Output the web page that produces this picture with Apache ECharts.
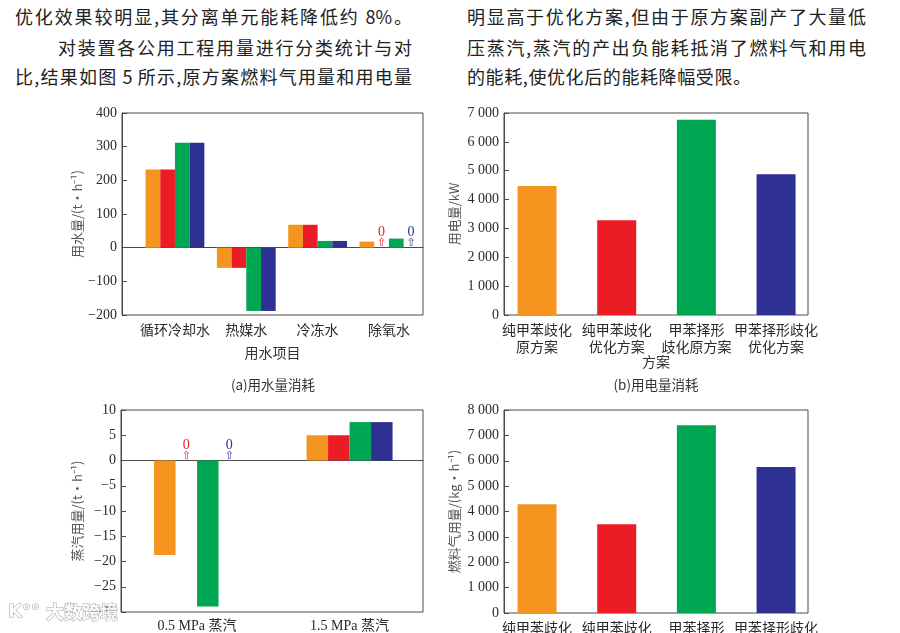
<!DOCTYPE html>
<html><head><meta charset="utf-8">
<script src="https://cdn.jsdelivr.net/npm/echarts@6/dist/echarts.min.js"></script>
<style>
body{margin:0;background:#fff;width:900px;height:633px;overflow:hidden;position:relative}
.ln{position:absolute;font-family:"Noto Sans CJK SC";font-size:18px;line-height:30px;color:#222;white-space:nowrap;text-align:justify;text-align-last:justify;overflow:hidden;height:30px}
#chart{position:absolute;left:0;top:0;width:900px;height:633px}
</style></head>
<body>
<div class="ln" style="left:15px;top:1px;width:397px">优化效果较明显,其分离单元能耗降低约 8%。</div>
<div class="ln" style="left:58px;top:32px;width:354px">对装置各公用工程用量进行分类统计与对</div>
<div class="ln" style="left:15px;top:61px;width:397px">比,结果如图 5 所示,原方案燃料气用量和用电量</div>
<div class="ln" style="left:467px;top:1px;width:399px">明显高于优化方案,但由于原方案副产了大量低</div>
<div class="ln" style="left:467px;top:32px;width:399px">压蒸汽,蒸汽的产出负能耗抵消了燃料气和用电</div>
<div class="ln" style="left:467px;top:61px;width:280px;text-align:left;text-align-last:left;letter-spacing:0.6px">的能耗,使优化后的能耗降幅受限。</div>
<div id="chart"></div>
<script>
// ---- data ----
const seriesNames = ['纯甲苯歧化原方案', '纯甲苯歧化优化方案', '甲苯择形歧化原方案', '甲苯择形歧化优化方案'];
const seriesColors = ['#F5941E', '#EC1C24', '#00A651', '#2E3192'];

const waterCats = ['循环冷却水', '热媒水', '冷冻水', '除氧水'];
const waterPureOrig = [232, -60, 68, 18];
const waterPureOpt = [232, -60, 68, 0];
const waterTolOrig = [312, -188, 20, 27];
const waterTolOpt = [312, -188, 20, 0];
const waterTicks = [-200, -100, 0, 100, 200, 300, 400];

const schemeCats = ['纯甲苯歧化\n原方案', '纯甲苯歧化\n优化方案', '甲苯择形\n歧化原方案', '甲苯择形歧化\n优化方案'];
const powerValues = [4470, 3280, 6770, 4880];
const powerTicks = [0, 1000, 2000, 3000, 4000, 5000, 6000, 7000];

const steamCats = ['0.5 MPa 蒸汽', '1.5 MPa 蒸汽'];
const steamPureOrig = [-18.7, 5.0];
const steamPureOpt = [0, 5.0];
const steamTolOrig = [-28.9, 7.6];
const steamTolOpt = [0, 7.6];
const steamTicks = [-30, -25, -20, -15, -10, -5, 0, 5, 10];

const fuelValues = [4290, 3500, 7400, 5750];
const fuelTicks = [0, 1000, 2000, 3000, 4000, 5000, 6000, 7000, 8000];

// ---- helpers ----
const axisColor = '#4a4a4a';
const serif = '"Liberation Serif", "Noto Sans CJK SC", serif';
const cjk = '"Noto Sans CJK SC", sans-serif';

function fmtSigned(v) { return v < 0 ? '\u2212' + Math.abs(v) : String(v); }
function fmtThousand(v) {
  if (v >= 1000) return Math.floor(v / 1000) + ' ' + String(v % 1000).padStart(3, '0');
  return String(v);
}

const frames = [
  {left: 122, top: 113, width: 301, height: 202},
  {left: 504, top: 113, width: 304, height: 202},
  {left: 121, top: 410, width: 302, height: 202},
  {left: 504, top: 410, width: 304, height: 203}
];
const barGrids = [
  {left: 139.3, top: 113, width: 285.3, height: 202},
  {left: 497.2, top: 113, width: 318.7, height: 202},
  {left: 120.8, top: 410, width: 305, height: 202},
  {left: 497.2, top: 410, width: 318.7, height: 203}
];

const grid = [];
frames.forEach(f => grid.push(Object.assign({show: true, borderColor: axisColor, borderWidth: 1, backgroundColor: 'transparent', containLabel: false, outerBoundsMode: 'none'}, f)));
barGrids.forEach(f => grid.push(Object.assign({show: false, containLabel: false, outerBoundsMode: 'none'}, f)));

const xAxis = [];
const yAxis = [];

function frameY(gi, ticks, fmt, name, gap) {
  yAxis.push({
    gridIndex: gi, type: 'value', position: 'left',
    min: ticks[0], max: ticks[ticks.length - 1], interval: ticks[1] - ticks[0],
    axisLine: {show: true, lineStyle: {color: axisColor, width: 1}},
    axisTick: {show: true, inside: true, length: 5, lineStyle: {color: axisColor}},
    axisLabel: {formatter: fmt, margin: 5, fontFamily: serif, fontSize: 14, color: '#2a2a2a'},
    splitLine: {show: false},
    name: name, nameLocation: 'middle', nameGap: gap,
    nameTextStyle: {fontFamily: cjk, fontSize: 13, color: '#555'}
  });
}
function frameX(gi, zeroLine, name, gap) {
  xAxis.push({
    gridIndex: gi, type: 'category', data: [''], position: 'bottom',
    axisLine: {show: zeroLine, onZero: zeroLine, lineStyle: {color: axisColor, width: 1}},
    axisTick: {show: false}, axisLabel: {show: false}, splitLine: {show: false}
  });
  if (name) {
    xAxis.push({
      gridIndex: gi, type: 'category', data: [''], position: 'bottom',
      axisLine: {show: false, onZero: false}, axisTick: {show: false}, axisLabel: {show: false},
      name: name, nameLocation: 'middle', nameGap: gap,
      nameTextStyle: {fontFamily: cjk, fontSize: 14, color: '#333'}
    });
  }
}
function barAxes(gi, cats, ticks, fontFam) {
  const xi = xAxis.length, yi = yAxis.length;
  xAxis.push({
    gridIndex: gi, type: 'category', data: cats, position: 'bottom',
    axisLine: {show: false, onZero: false}, axisTick: {show: false},
    axisLabel: {margin: 6, fontSize: 14, lineHeight: 17, color: '#2a2a2a', fontFamily: fontFam, interval: 0}
  });
  yAxis.push({gridIndex: gi, type: 'value', show: false, position: 'left',
    min: ticks[0], max: ticks[ticks.length - 1], interval: ticks[1] - ticks[0]});
  return [xi, yi];
}

// frames
frameY(0, waterTicks, fmtSigned, '用水量/(t·h⁻¹)', 38); frameX(0, true, '用水项目', 31);
frameY(1, powerTicks, fmtThousand, '用电量/kW', 43); frameX(1, false, '方案', 40);
frameY(2, steamTicks, fmtSigned, '蒸汽用量/(t·h⁻¹)', 37); frameX(2, true, null, 0);
frameY(3, fuelTicks, fmtThousand, '燃料气用量/(kg·h⁻¹)', 43); frameX(3, false, null, 0);

// bar axes
const axA = barAxes(4, waterCats, waterTicks, cjk);
const axB = barAxes(5, schemeCats, powerTicks, cjk);
const axC = barAxes(6, steamCats, steamTicks, serif);
const axD = barAxes(7, schemeCats, fuelTicks, cjk);

function zeroLabel(color) {
  return {
    show: true, position: 'top', distance: 0,
    formatter: p => (p.value === 0 ? '{n|0}\n{a|⇧}' : ''),
    rich: {
      n: {fontFamily: serif, fontSize: 14, color: color, lineHeight: 12, align: 'center'},
      a: {fontFamily: '"DejaVu Sans"', fontSize: 11, color: color, lineHeight: 9, align: 'center'}
    }
  };
}

const series = [];
const waterSets = [waterPureOrig, waterPureOpt, waterTolOrig, waterTolOpt];
waterSets.forEach((d, i) => series.push({
  name: seriesNames[i], type: 'bar', xAxisIndex: axA[0], yAxisIndex: axA[1],
  data: d, barWidth: 14.7, barGap: '0%', itemStyle: {color: seriesColors[i]},
  label: zeroLabel(seriesColors[i]), z: 3
}));
const steamSets = [steamPureOrig, steamPureOpt, steamTolOrig, steamTolOpt];
steamSets.forEach((d, i) => series.push({
  name: seriesNames[i], type: 'bar', xAxisIndex: axC[0], yAxisIndex: axC[1],
  data: d, barWidth: 21.5, barGap: '0%', itemStyle: {color: seriesColors[i]},
  label: zeroLabel(seriesColors[i]), z: 3
}));
series.push({
  name: '用电量', type: 'bar', xAxisIndex: axB[0], yAxisIndex: axB[1], barWidth: 39,
  data: powerValues.map((v, i) => ({value: v, itemStyle: {color: seriesColors[i]}})), z: 3
});
series.push({
  name: '燃料气用量', type: 'bar', xAxisIndex: axD[0], yAxisIndex: axD[1], barWidth: 39,
  data: fuelValues.map((v, i) => ({value: v, itemStyle: {color: seriesColors[i]}})), z: 3
});

function caption(x, y, text) {
  return {type: 'text', x: x, y: y, z: 10,
    style: {text: text, align: 'center', verticalAlign: 'middle', textAlign: 'center', textVerticalAlign: 'middle',
      fontFamily: cjk, fontSize: 13.5, fill: '#333'}};
}

const chart = echarts.init(document.getElementById('chart'), null, {renderer: 'canvas'});
chart.setOption({
  animation: false,
  grid: grid, xAxis: xAxis, yAxis: yAxis, series: series,
  graphic: [
    caption(273, 385, '(a)用水量消耗'),
    caption(656, 385, '(b)用电量消耗'),
    {type: 'text', x: 8, y: 612, z: 20, style: {text: 'K°°', fontFamily: '"DejaVu Sans"', fontSize: 18, fontWeight: 'bold',
      fill: 'rgba(255,255,255,0.9)', stroke: '#a8a8a8', lineWidth: 1, align: 'left', verticalAlign: 'middle', textVerticalAlign: 'middle'}},
    {type: 'text', x: 46, y: 612, z: 20, style: {text: '大数跨境', fontFamily: cjk, fontSize: 18, fontWeight: 'bold',
      fill: 'rgba(255,255,255,0.9)', stroke: '#a8a8a8', lineWidth: 1, align: 'left', verticalAlign: 'middle', textVerticalAlign: 'middle'}}
  ]
});
</script>
</body></html>
